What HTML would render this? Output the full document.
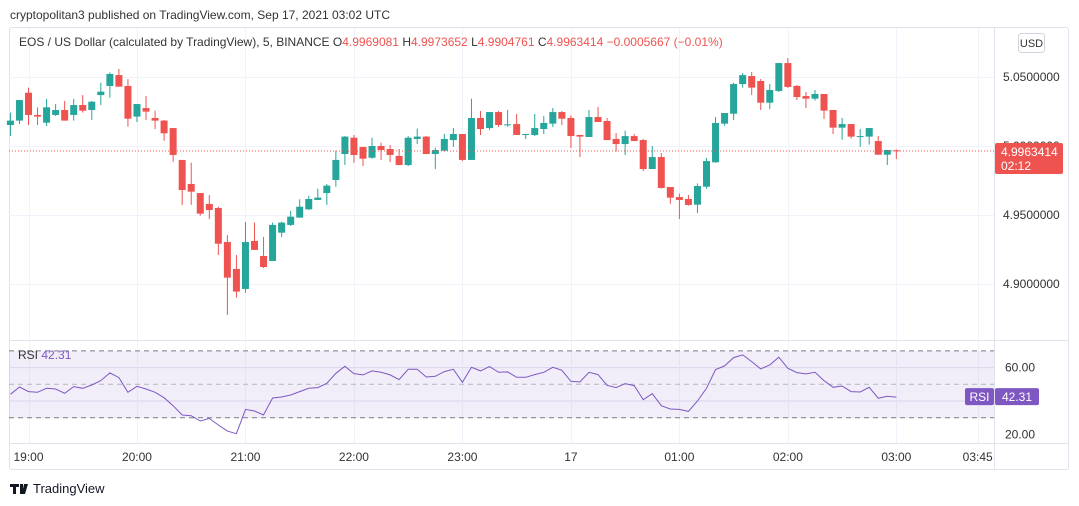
<!DOCTYPE html>
<html><head><meta charset="utf-8">
<style>
html,body{margin:0;padding:0;background:#fff;width:1079px;height:506px;overflow:hidden;font-family:"Liberation Sans",sans-serif}
svg{position:absolute;left:0;top:0}
</style></head>
<body>
<svg id="c" width="1079" height="506" xmlns="http://www.w3.org/2000/svg">
<text x="10" y="19" font-size="12" fill="#333">cryptopolitan3 published on TradingView.com, Sep 17, 2021 03:02 UTC</text>
<rect x="9.5" y="27.5" width="1059" height="442" fill="#fff" stroke="#e0e3eb" rx="2"/>
<g id="grid"></g>
<rect x="9" y="351" width="985" height="67" fill="rgba(126,87,194,0.1)"/>
<g id="bands"></g>
<g id="candles"></g>
<g id="rsi"></g>
<line x1="9" y1="340.5" x2="1069" y2="340.5" stroke="#e0e3eb"/>
<line x1="994.5" y1="28" x2="994.5" y2="470" stroke="#e0e3eb"/>
<line x1="9" y1="443.5" x2="1069" y2="443.5" stroke="#e0e3eb"/>
<g id="yaxis"></g>
<g id="xaxis"></g>
<text x="19" y="46" font-size="12" fill="#333">EOS / US Dollar (calculated by TradingView), 5, BINANCE  <tspan fill="#333">O</tspan><tspan fill="#ef5350">4.9969081</tspan>  <tspan fill="#333">H</tspan><tspan fill="#ef5350">4.9973652</tspan>  <tspan fill="#333">L</tspan><tspan fill="#ef5350">4.9904761</tspan>  <tspan fill="#333">C</tspan><tspan fill="#ef5350">4.9963414</tspan>  <tspan fill="#ef5350">−0.0005667 (−0.01%)</tspan></text>
<rect x="1018.5" y="33.5" width="26" height="19" rx="3" fill="#fff" stroke="#d1d4dc"/>
<text x="1031.5" y="47" font-size="11" fill="#333" text-anchor="middle">USD</text>
<text x="18" y="359" font-size="12" fill="#333">RSI <tspan fill="#7e57c2">42.31</tspan></text>
<g>
<path d="M10 484h9v3h-3v7h-3v-7h-3z M20 484h3v10h-3z M24 484h4l-3 10h-3z" fill="#131722"/>
<text x="33" y="493" font-size="13" fill="#131722">TradingView</text>
</g>
</svg>
<script>
const opens=[5.0152,5.0184,5.0386,5.0225,5.0169,5.0225,5.0261,5.0225,5.0297,5.0261,5.0369,5.0435,5.0514,5.0435,5.0213,5.0275,5.0203,5.0184,5.0130,4.9899,4.9725,4.9659,4.9580,4.9551,4.9304,4.9109,4.8964,4.9312,4.9203,4.9167,4.9372,4.9428,4.9481,4.9541,4.9609,4.9659,4.9754,4.9942,5.0060,4.9993,4.9915,5.0000,4.9978,4.9928,4.9862,5.0051,5.0068,4.9942,4.9966,5.0043,5.0087,4.9899,5.0203,5.0130,5.0246,5.0150,5.0159,5.0080,5.0080,5.0123,5.0162,5.0246,5.0203,5.0080,5.0065,5.0210,5.0181,5.0051,5.0014,5.0072,5.0043,4.9833,4.9920,4.9703,4.9630,4.9616,4.9575,4.9705,4.9882,5.0162,5.0234,5.0449,5.0507,5.0471,5.0314,5.0399,5.0601,5.0435,5.0362,5.0343,5.0377,5.0261,5.0133,5.0159,5.0068,5.0068,5.0036,4.9937,4.9969];
const highs=[5.0242,5.0333,5.0423,5.0280,5.0341,5.0304,5.0326,5.0341,5.0369,5.0326,5.0459,5.0534,5.0558,5.0485,5.0304,5.0362,5.0256,5.0188,5.0130,4.9899,4.9879,4.9659,4.9645,4.9560,4.9355,4.9210,4.9449,4.9445,4.9341,4.9445,4.9452,4.9529,4.9614,4.9640,4.9691,4.9725,4.9966,5.0072,5.0080,4.9993,5.0060,5.0024,5.0007,4.9978,5.0072,5.0126,5.0072,4.9988,5.0087,5.0130,5.0087,5.0343,5.0254,5.0246,5.0254,5.0261,5.0232,5.0087,5.0232,5.0217,5.0275,5.0254,5.0222,5.0080,5.0261,5.0283,5.0203,5.0094,5.0111,5.0087,5.0051,5.0000,4.9949,4.9703,4.9655,4.9645,4.9729,4.9913,5.0210,5.0239,5.0457,5.0529,5.0536,5.0486,5.0449,5.0601,5.0638,5.0442,5.0391,5.0406,5.0377,5.0261,5.0203,5.0159,5.0123,5.0130,5.0072,4.9971,4.9974];
const lows=[5.0072,5.0159,5.0152,5.0152,5.0145,5.0217,5.0184,5.0184,5.0242,5.0188,5.0297,5.0350,5.0430,5.0140,5.0174,5.0188,5.0123,5.0039,4.9886,4.9573,4.9573,4.9495,4.9471,4.9210,4.8776,4.8901,4.8937,4.9247,4.9116,4.9167,4.9341,4.9420,4.9481,4.9536,4.9609,4.9573,4.9705,4.9862,4.9879,4.9855,4.9908,4.9899,4.9884,4.9862,4.9855,5.0014,4.9942,4.9833,4.9959,4.9993,4.9891,4.9899,5.0080,5.0116,5.0138,5.0140,5.0080,5.0051,5.0072,5.0087,5.0138,5.0152,4.9986,4.9920,5.0065,5.0174,5.0043,4.9959,4.9935,5.0036,4.9819,4.9833,4.9691,4.9582,4.9471,4.9568,4.9514,4.9691,4.9879,5.0147,5.0188,5.0423,5.0369,5.0261,5.0268,5.0391,5.0420,5.0333,5.0275,5.0329,5.0196,5.0087,5.0046,5.0053,4.9995,5.0010,4.9937,4.9862,4.9905];
const closes=[5.0184,5.0333,5.0225,5.0213,5.0280,5.0261,5.0184,5.0297,5.0256,5.0321,5.0394,5.0522,5.0430,5.0198,5.0304,5.0249,5.0184,5.0092,4.9935,4.9681,4.9669,4.9510,4.9536,4.9292,4.9046,4.8945,4.9304,4.9247,4.9123,4.9428,4.9445,4.9488,4.9560,4.9616,4.9626,4.9713,4.9899,5.0068,4.9935,4.9908,5.0000,4.9971,4.9935,4.9862,5.0060,5.0068,4.9942,4.9971,5.0051,5.0087,4.9899,5.0203,5.0123,5.0246,5.0152,5.0157,5.0080,5.0087,5.0130,5.0167,5.0246,5.0198,5.0072,5.0068,5.0210,5.0174,5.0043,5.0014,5.0072,5.0036,4.9833,4.9920,4.9696,4.9626,4.9609,4.9573,4.9710,4.9891,5.0167,5.0239,5.0449,5.0514,5.0423,5.0314,5.0406,5.0601,5.0428,5.0355,5.0343,5.0377,5.0256,5.0133,5.0159,5.0068,5.0072,5.0130,4.9937,4.9971,4.9963];
const rsiValues=[44,48.4,45.6,45.2,47.6,47.2,44.6,48.6,47.6,49.6,52.2,56.8,54,45.2,48.8,47.2,45.2,42,37.2,31.6,31.2,28,29.6,25.6,22,20.4,35,34,31.6,41.8,42.4,43.6,45.6,47.6,48,50.6,56.6,60.8,56.4,55.6,58,57.2,55.6,52.8,59,59,54.4,54.8,57.6,59,51.2,60.2,58,60.6,57.2,57.4,54.2,54.2,55.8,57.2,60.2,58.4,51.8,51.4,57.2,55.8,49.4,48,50.4,49.2,40.8,44.4,37.2,35.2,35,33.8,40,47.6,58.8,61,66,67.6,63.6,59.2,61.6,66.2,59.6,57,56.2,57.2,52.2,48.2,49,45.6,45.4,48.2,41.6,42.8,42.31];
const priceTicks=[5.05,5.00,4.95,4.90];
const priceTickLabels=["5.0500000","5.0000000","4.9500000","4.9000000"];
const rsiTicks=[60,20];
const timeLabels=["19:00","20:00","21:00","22:00","23:00","17","01:00","02:00","03:00","03:45"];
const timeSlots=[2,14,26,38,50,62,74,86,98,107];
const lastPrice=4.9963414, lastRsi=42.31;

const NS="http://www.w3.org/2000/svg";
function mk(tag,attrs,parent){const e=document.createElementNS(NS,tag);for(const k in attrs)e.setAttribute(k,attrs[k]);parent.appendChild(e);return e;}
const xOf=i=>28.5+9.04*(i-2);
const yP=p=>146-(p-5.0)*1380;
const yR=r=>384.3-(r-50)*1.67;

const grid=document.getElementById('grid');
priceTicks.forEach(p=>{const l=mk('line',{x1:9,x2:994,y1:yP(p)+.5,y2:yP(p)+.5,stroke:'#f0f3fa'},grid);

});
[60,40].forEach(r=>{const l=mk('line',{x1:9,x2:994,y1:yR(r),y2:yR(r),stroke:'#e6e3f0'},grid);

});
timeSlots.forEach(s=>{const x=Math.round(xOf(s))+.5;const l=mk('line',{x1:x,x2:x,y1:28,y2:443,stroke:'#f0f3fa'},grid);

});

const bands=document.getElementById('bands');
[70,50,30].forEach(r=>{const l=mk('line',{x1:9,x2:994,y1:yR(r),y2:yR(r),stroke:r==50?'#b2b5be':'#787b86','stroke-dasharray':'5,4'},bands);

});

const cg=document.getElementById('candles');
opens.forEach((o,i)=>{const c=closes[i];const up=c>=o;const col=up?'#26a69a':'#ef5350';const x=xOf(i);
const w=mk('line',{x1:x,x2:x,y1:yP(highs[i]),y2:yP(lows[i]),stroke:col,'stroke-width':1},cg);


const t=Math.min(yP(o),yP(c)),h=Math.max(1,Math.abs(yP(o)-yP(c)));
const b=mk('rect',{x:x-3.5,y:t,width:7,height:h,fill:col},cg);

});
const pl=mk('line',{x1:9,x2:994,y1:yP(lastPrice),y2:yP(lastPrice),stroke:'#ef5350','stroke-dasharray':'1,2'},cg);



const rg=document.getElementById('rsi');
const pts=rsiValues.map((r,i)=>xOf(i).toFixed(1)+','+yR(r).toFixed(1)).join(' ');
const pline=mk('polyline',{points:pts,fill:'none',stroke:'#7e57c2','stroke-width':1},rg);



const ya=document.getElementById('yaxis');
priceTicks.forEach((p,i)=>{const t=mk('text',{x:1003,y:yP(p)+4,'font-size':12,fill:'#333'},ya);t.textContent=priceTickLabels[i];

});
rsiTicks.forEach(r=>{const t=mk('text',{x:1005,y:yR(r)+4,'font-size':12,fill:'#333'},ya);t.textContent=r.toFixed(2);

});
const py=yP(lastPrice);
const pb=mk('rect',{x:995,y:py-8,width:68,height:31,fill:'#ef5350',rx:2},ya);


const pt=mk('text',{x:1001,y:py+5,'font-size':12,fill:'#fff'},ya);pt.textContent=lastPrice.toFixed(7);


const pt2=mk('text',{x:1001,y:py+19,'font-size':12,fill:'#fff'},ya);pt2.textContent='02:12';


const ry=yR(lastRsi);
const rb1=mk('rect',{x:965,y:ry-9,width:29,height:17,fill:'#7e57c2',rx:2},ya);


const rt1=mk('text',{x:979.5,y:ry+4,'font-size':12,fill:'#fff','text-anchor':'middle'},ya);rt1.textContent='RSI';


const rb2=mk('rect',{x:995,y:ry-9,width:44,height:17,fill:'#7e57c2',rx:2},ya);


const rt2=mk('text',{x:1017,y:ry+4,'font-size':12,fill:'#fff','text-anchor':'middle'},ya);rt2.textContent=lastRsi.toFixed(2);



const xa=document.getElementById('xaxis');
timeLabels.forEach((s,i)=>{let x=xOf(timeSlots[i]);const t=mk('text',{x:x,y:461,'font-size':12,fill:'#333','text-anchor':'middle'},xa);t.textContent=s;

});
</script>
</body></html>
